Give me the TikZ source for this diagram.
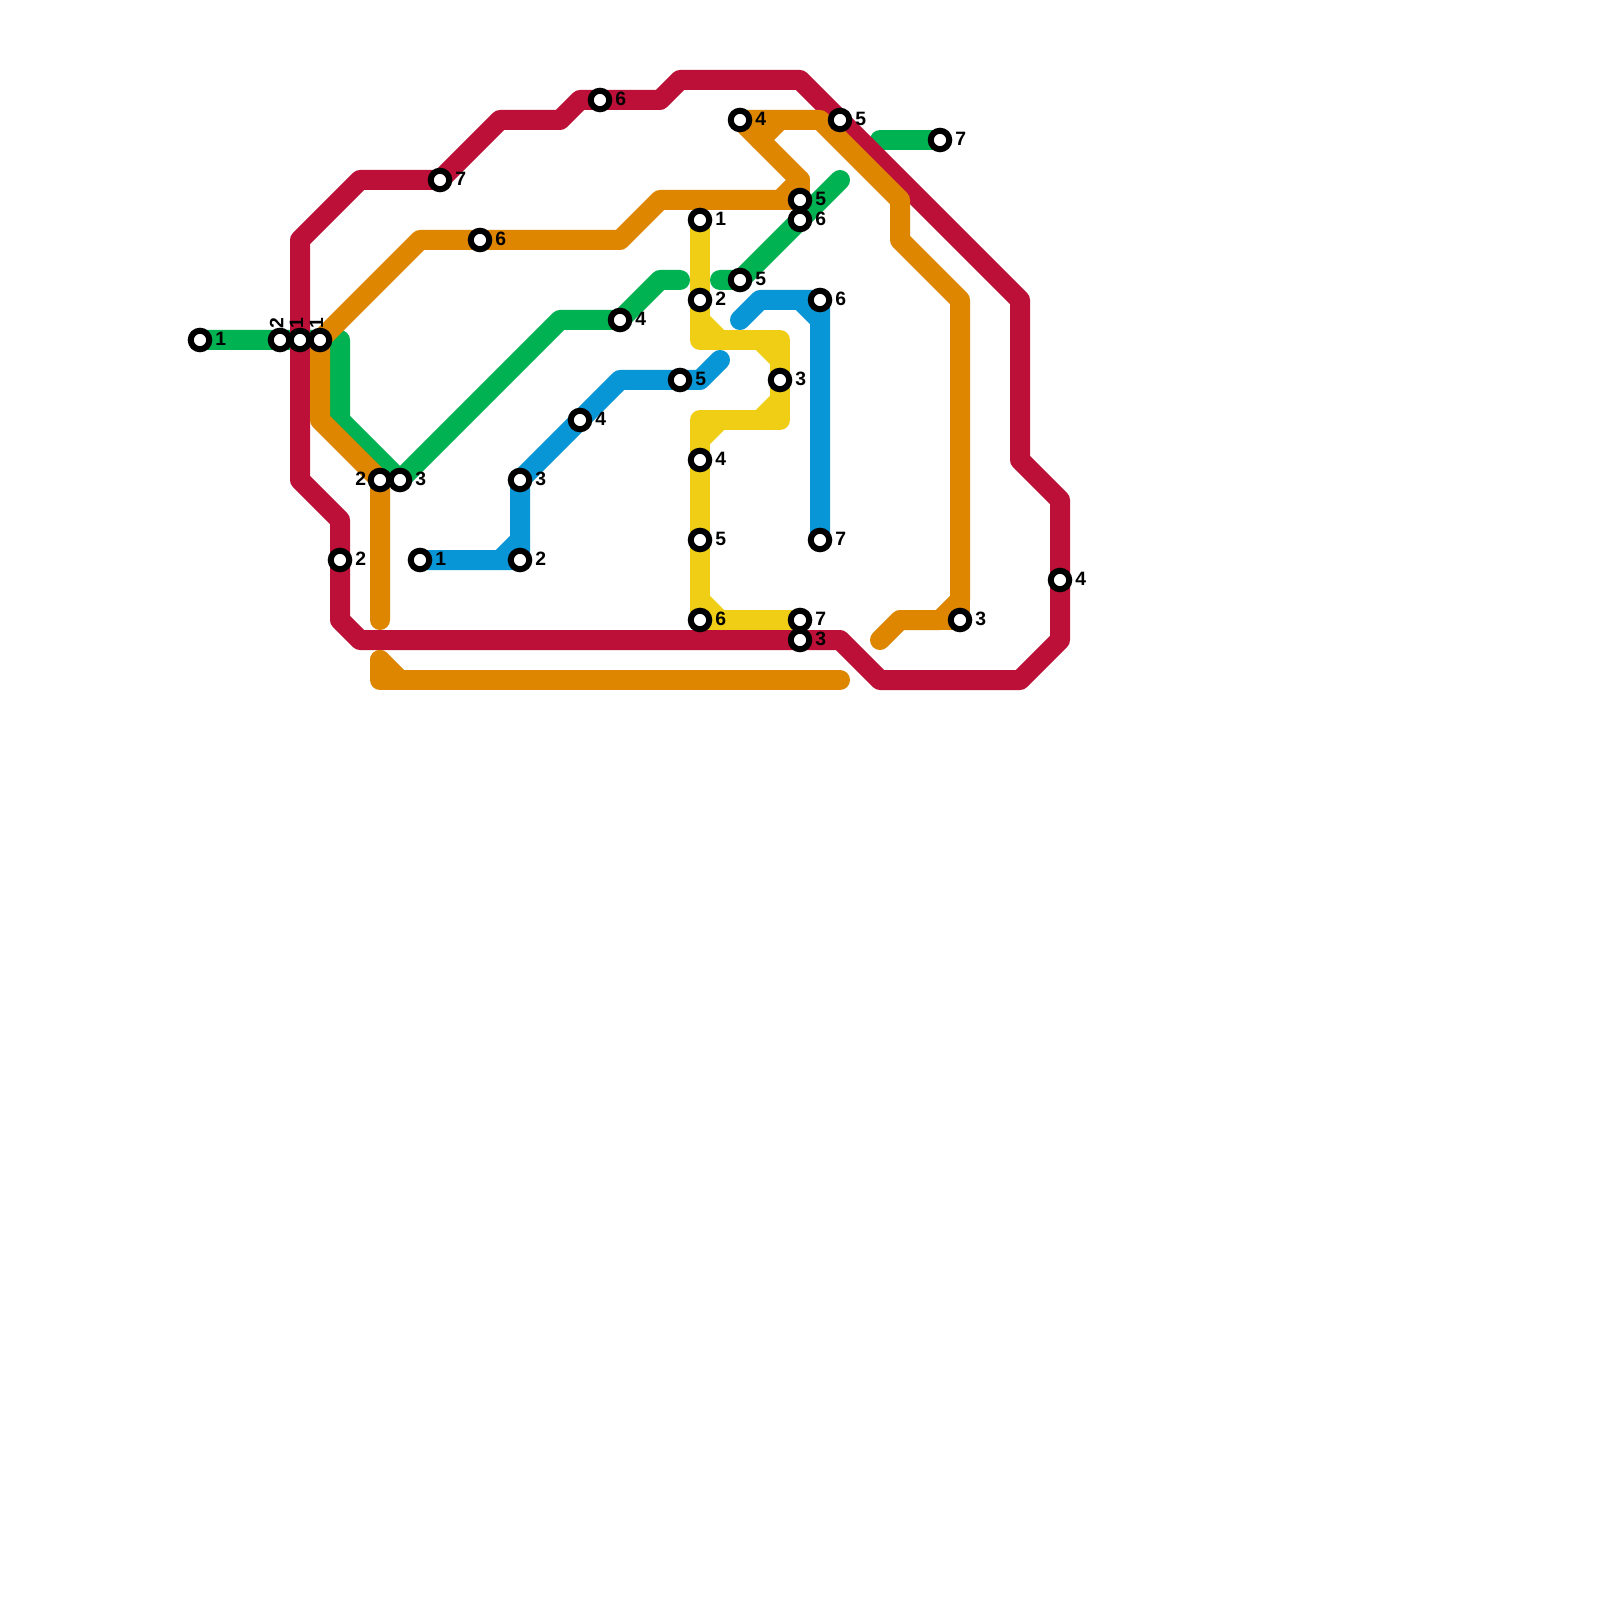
\documentclass[tikz,border=0pt]{standalone}
\usepackage{fontspec}
\setmainfont{Liberation Sans}
\usetikzlibrary{backgrounds}

\definecolor{linegreen}{HTML}{00B251}
\definecolor{linered}{HTML}{BD1038}
\definecolor{lineorange}{HTML}{DF8600}
\definecolor{lineblue}{HTML}{0896D7}
\definecolor{lineyellow}{HTML}{F0CE15}

\begin{document}
\begin{tikzpicture}[
		x=2mm,y=-2mm,
		font=\bfseries\fontsize{5.5}{6.5}\selectfont,
		route/.style={line width=2mm,line cap=round,line join=round},
		station/.style={circle,draw=black,fill=white,line width=.6mm,minimum size=1.85mm,inner sep=0pt},
		num/.style={inner sep=0pt,text=black,yshift=.15mm},
		numup/.style={inner sep=0pt,text=black,rotate=90,anchor=west,xshift=-.1mm,yshift=-.2mm},
		label distance=.25mm]
		\useasboundingbox (0,0) rectangle (80,80);
		
		% Stations
		\node[station,label={[num]0:1}] (g1) at (10,17) {};
		\node[station,label={[numup,label distance=.55mm]90:2}] (g2) at (14,17) {};
		\node[station,label={[num]0:3}] (g3) at (20,24) {};
		\node[station,label={[num]0:4}] (g4) at (31,16) {};
		\node[station,label={[num]0:5}] (g5) at (37,14) {};
		\node[station,label={[num]0:6}] (g6) at (40,11) {};
		\node[station,label={[num]0:7}] (g7) at (47,7) {};
		
		\node[station,label={[numup,label distance=.55mm]90:1}] (r1) at (15,17) {};
		\node[station,label={[num]0:2}] (r2) at (17,28) {};
		\node[station,label={[num]0:3}] (r3) at (40,32) {};
		\node[station,label={[num]0:4}] (r4) at (53,29) {};
		\node[station,label={[num]0:5}] (r5) at (42,6) {};
		\node[station,label={[num]0:6}] (r6) at (30,5) {};
		\node[station,label={[num]0:7}] (r7) at (22,9) {};
		
		\node[station,label={[numup,label distance=.55mm]90:1}] (o1) at (16,17) {};
		\node[station,label={[num,label distance=.1mm]180:2}] (o2) at (19,24) {};
		\node[station,label={[num]0:3}] (o3) at (48,31) {};
		\node[station,label={[num]0:4}] (o4) at (37,6) {};
		\node[station,label={[num]0:5}] (o5) at (40,10) {};
		\node[station,label={[num]0:6}] (o6) at (24,12) {};
		
		\node[station,label={[num]0:1}] (b1) at (21,28) {};
		\node[station,label={[num]0:2}] (b2) at (26,28) {};
		\node[station,label={[num]0:3}] (b3) at (26,24) {};
		\node[station,label={[num]0:4}] (b4) at (29,21) {};
		\node[station,label={[num]0:5}] (b5) at (34,19) {};
		\node[station,label={[num]0:6}] (b6) at (41,15) {};
		\node[station,label={[num]0:7}] (b7) at (41,27) {};
		
		\node[station,label={[num]0:1}] (y1) at (35,11) {};
		\node[station,label={[num]0:2}] (y2) at (35,15) {};
		\node[station,label={[num]0:3}] (y3) at (39,19) {};
		\node[station,label={[num]0:4}] (y4) at (35,23) {};
		\node[station,label={[num]0:5}] (y5) at (35,27) {};
		\node[station,label={[num]0:6}] (y6) at (35,31) {};
		\node[station,label={[num]0:7}] (y7) at (40,31) {};
		
		% Free line ends
		\path
		(34,14) coordinate (gendA)
		(36,14) coordinate (gendB)
		(42,9) coordinate (gendC)
		(44,7) coordinate (gendD)
		(19,31) coordinate (oendA)
		(44,32) coordinate (oendB)
		(19,33) coordinate (oendC)
		(42,34) coordinate (oendD)
		(36,18) coordinate (bendA)
		(37,16) coordinate (bendB);
		
		\begin{scope}[on background layer]
			\fill[white] (0,0) rectangle (80,80);
			
			% Green line
			\draw[route,linegreen] (g1.center) -- (g2.center) -- (17,17) -- (17,21) -- (g3.center) -- (28,16) -- (g4.center) -- (33,14) -- (gendA);
			\draw[route,linegreen] (gendB) -- (g5.center) -- (g6.center) -- (gendC);
			\draw[route,linegreen] (gendD) -- (g7.center);
			
			% Red line
			\draw[route,linered] (r1.center) -- (15,12) -- (18,9) -- (r7.center) -- (25,6) -- (28,6) -- (29,5) -- (r6.center) -- (33,5) -- (34,4) -- (40,4) -- (r5.center) -- (51,15) -- (51,23) -- (53,25) -- (r4.center) -- (53,32) -- (51,34) -- (44,34) -- (42,32) -- (r3.center) -- (18,32) -- (17,31) -- (r2.center) -- (17,26) -- (15,24) -- cycle;
			
			% Orange line
			\draw[route,lineorange] (oendA) -- (o2.center) -- (16,21) -- (o1.center) -- (21,12) -- (o6.center) -- (31,12) -- (33,10) -- (39,10) -- (40,9) -- (38,7) -- (o4.center) -- (41,6) -- (45,10) -- (45,12) -- (48,15) -- (48,30) -- (47,31) -- (45,31) -- (oendB);
			\draw[route,lineorange] (39,10) -- (o5.center) -- (40,9);
			\draw[route,lineorange] (38,7) -- (39,6);
			\draw[route,lineorange] (48,30) -- (o3.center) -- (47,31);
			\draw[route,lineorange] (oendC) -- (19,34) -- (oendD);
			\draw[route,lineorange] (oendC) -- (20,34);
			
			% Blue line
			\draw[route,lineblue] (b1.center) -- (b2.center) -- (b3.center) -- (b4.center) -- (31,19) -- (b5.center) -- (35,19) -- (bendA);
			\draw[route,lineblue] (bendB) -- (38,15) -- (b6.center) -- (b7.center);
			\draw[route,lineblue] (25,28) -- (26,27);
			\draw[route,lineblue] (40,15) -- (41,16);
			
			% Yellow line
			\draw[route,lineyellow] (y1.center) -- (y2.center) -- (35,17) -- (39,17) -- (y3.center) -- (39,21) -- (35,21) -- (y4.center) -- (y5.center) -- (y6.center) -- (y7.center);
			\draw[route,lineyellow] (35,16) -- (36,17);
			\draw[route,lineyellow] (38,17) -- (39,18);
			\draw[route,lineyellow] (39,20) -- (38,21);
			\draw[route,lineyellow] (36,21) -- (35,22);
			\draw[route,lineyellow] (35,30) -- (36,31);
		\end{scope}
\end{tikzpicture}
\end{document}
